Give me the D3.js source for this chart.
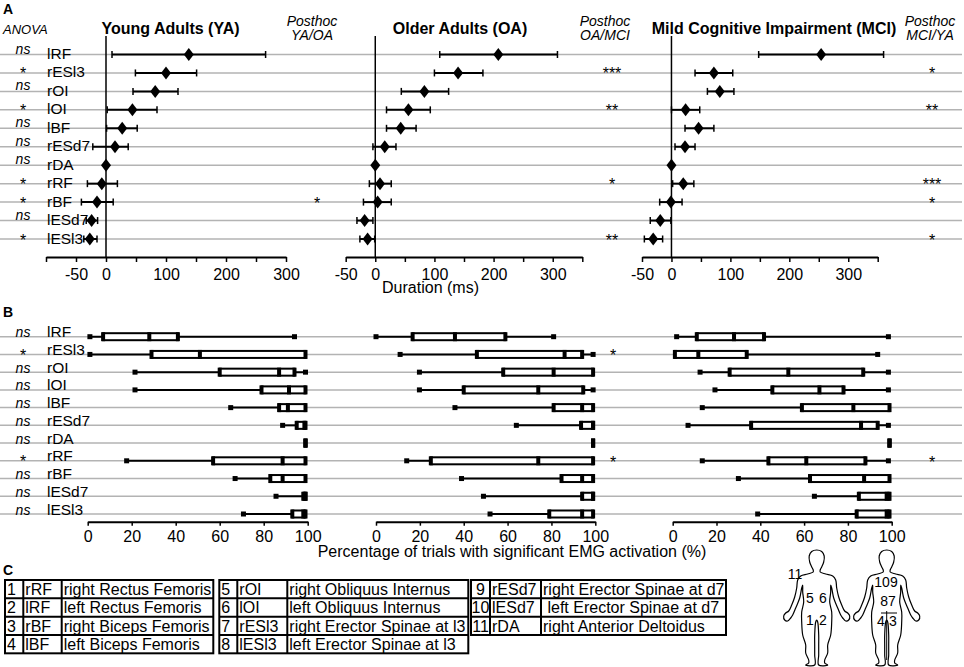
<!DOCTYPE html>
<html>
<head>
<meta charset="utf-8">
<script src="https://cdn.jsdelivr.net/npm/d3@7"></script>
<style>
  body { margin: 0; background: #fff; }
  svg { display: block; font-family: "Liberation Sans", Arial, sans-serif; }
</style>
</head>
<body>
<svg id="chart" width="964" height="667"></svg>
<script>
// muscles, top to bottom
const muscles = ["lRF", "rESl3", "rOI", "lOI", "lBF", "rESd7", "rDA", "rRF", "rBF", "lESd7", "lESl3"];
const anovaA = ["ns", "*", "ns", "*", "ns", "ns", "ns", "*", "*", "ns", "*"];
const anovaB = ["ns", "*", "ns", "ns", "ns", "ns", "ns", "*", "ns", "ns", "ns"];

// onset duration (ms): mean and error bar ends
const yaMean = [138, 100, 82, 44, 27, 15, 0, -7, -15, -24, -27];
const yaLo = [10, 49, 45, 2, 1, -22, 0, -31, -41, -33, -37];
const yaHi = [266, 151, 120, 85, 52, 37, 0, 19, 12, -14, -15];

const oaMean = [208, 140, 83, 56, 43, 16, 0, 8, 4, -18, -13];
const oaLo = [109, 100, 44, 19, 19, -4, 0, -10, -20, -31, -26];
const oaHi = [308, 182, 124, 93, 69, 35, 0, 27, 27, -4, -1];

const mciMean = [254, 72, 82, 24, 46, 23, 0, 20, -1, -19, -31];
const mciLo = [148, 40, 61, 0, 23, 6, 0, 2, -20, -36, -46];
const mciHi = [360, 104, 106, 48, 72, 40, 0, 38, 18, -1, -15];

// posthoc stars
const postYAOA = ["", "", "", "", "", "", "", "", "*", "", ""];
const postOAMCI = ["", "***", "", "**", "", "", "", "*", "", "", "**"];
const postMCIYA = ["", "*", "", "**", "", "", "", "***", "*", "", "*"];

// percentage of trials: [min, q1, median, q3, max]
const boxYA = [
  [1, 7, 28, 41, 94], [1, 29, 51, 99, 99], [21.5, 60, 87, 94, 99], [21.5, 79, 91.5, 99, 99],
  [65, 87, 91, 99, 99], [88.6, 95, 98.5, 99, 99], [99, 99, 99, 99, 99], [17.7, 57, 88.6, 99, 99],
  [67, 83, 88.6, 99, 99], [85.6, 98, 99, 99, 99], [70.8, 93, 98, 99, 99]
];
const boxOA = [
  [0, 16.7, 36, 59, 81], [11, 46, 86, 94, 99], [19.8, 58, 81, 99, 99], [19.8, 40, 74, 94.5, 99],
  [36, 81, 94, 99, 99], [64, 93.5, 99, 99, 99], [99, 99, 99, 99, 99], [14, 25, 74, 99, 99],
  [39, 84.6, 94, 99, 99], [49, 94, 99, 99, 99], [52, 79, 94, 99, 99]
];
const boxMCI = [
  [1.8, 11, 28, 41.7, 98.5], [1, 1, 11.7, 33.8, 93.6], [12.5, 26, 52.8, 87, 98.5], [19.3, 45.5, 67, 78, 98.5],
  [13.5, 59, 82.5, 99, 99], [7, 35.8, 86, 93.6, 98.5], [99, 99, 99, 99, 99], [13.5, 43.7, 61, 88, 98.5],
  [30, 62.7, 87.4, 99, 99], [64.7, 85, 97.7, 99, 99], [38.8, 84, 97.7, 99, 99]
];
const starsBOA = ["", "*", "", "", "", "", "", "*", "", "", ""];
const starsBMCI = ["", "", "", "", "", "", "", "*", "", "", ""];

const durLabels = [-50, 0, 100, 200, 300];
const pctTicks = [0, 20, 40, 60, 80, 100];

// table C
const tabNum = ["1", "2", "3", "4", "5", "6", "7", "8", "9", "10", "11"];
const tabAbbr = ["rRF", "lRF", "rBF", "lBF", "rOI", "lOI", "rESl3", "lESl3", "rESd7", "lESd7", "rDA"];
const tabName = ["right Rectus Femoris", "left Rectus Femoris", "right Biceps Femoris", "left Biceps Femoris",
  "right Obliquus Internus", "left Obliquus Internus", "right Erector Spinae at l3", "left Erector Spinae at l3",
  "right Erector Spinae at d7", " left Erector Spinae at d7", "right Anterior Deltoidus"];

const svg = d3.select("#chart");
const grey = "#b3b3b3";

const yA = d3.scalePoint().domain(muscles).range([54.5, 239]);
const yB = d3.scalePoint().domain(muscles).range([336.7, 514]);

// grey row lines across the whole width
[yA, yB].forEach((y) => {
  svg.append("g").selectAll("line").data(muscles).join("line")
    .attr("x1", 0).attr("x2", 962)
    .attr("y1", (d) => y(d)).attr("y2", (d) => y(d))
    .attr("stroke", grey).attr("stroke-width", 1.5);
});

// panel letters
svg.append("g").attr("font-weight", "bold").attr("font-size", 14)
  .selectAll("text").data([["A", 14], ["B", 317], ["C", 575]]).join("text")
  .attr("x", 3).attr("y", (d) => d[1]).text((d) => d[0]);

svg.append("text").attr("x", 3).attr("y", 33.5).attr("font-size", 13)
  .attr("font-style", "italic").text("ANOVA");

// row labels (ANOVA result + muscle name)
const rowLabels = (y, anova, dyName, dyNs) => {
  const g = svg.append("g");
  g.selectAll(".nm").data(muscles).join("text")
    .attr("x", 47).attr("y", (d) => y(d) + dyName)
    .attr("font-size", 15.5).text((d) => d);
  g.selectAll(".an").data(muscles).join("text")
    .attr("x", 23).attr("text-anchor", "middle")
    .attr("y", (d, i) => y(d) + (anova[i] === "ns" ? dyNs : 6.5))
    .attr("font-size", (d, i) => (anova[i] === "ns" ? 14 : 16))
    .attr("font-style", (d, i) => (anova[i] === "ns" ? "italic" : null))
    .text((d, i) => anova[i]);
};
rowLabels(yA, anovaA, 4.5, -1);
rowLabels(yB, anovaB, 0.5, 0.5);

// ---- Panel A: onset durations ----
const durPanels = [
  { title: "Young Adults (YA)", tx: 170.5, mean: yaMean, lo: yaLo, hi: yaHi,
    x: d3.scaleLinear().domain([-100, 300]).range([46, 286]),
    head: ["Posthoc", "YA/OA"], hx: 312, stars: postYAOA, sx: 317 },
  { title: "Older Adults (OA)", tx: 460, mean: oaMean, lo: oaLo, hi: oaHi,
    x: d3.scaleLinear().domain([-50, 350]).range([345.7, 582.3]),
    head: ["Posthoc", "OA/MCI"], hx: 605, stars: postOAMCI, sx: 612 },
  { title: "Mild Cognitive Impairment (MCI)", tx: 774, mean: mciMean, lo: mciLo, hi: mciHi,
    x: d3.scaleLinear().domain([-50, 350]).range([642, 877.7]),
    head: ["Posthoc", "MCI/YA"], hx: 930, stars: postMCIYA, sx: 932 }
];

const axisY = 257;
durPanels.forEach((p) => {
  const x = p.x;
  const [d0, d1] = x.domain();

  svg.append("text").attr("x", p.tx).attr("y", 34).attr("text-anchor", "middle")
    .attr("font-size", 16).attr("font-weight", "bold").text(p.title);

  svg.append("g").attr("font-size", 14).attr("font-style", "italic").attr("text-anchor", "middle")
    .selectAll("text").data(p.head).join("text")
    .attr("x", p.hx).attr("y", (d, i) => 25.5 + i * 14).text((d) => d);

  const ax = svg.append("g").attr("transform", `translate(0,${axisY})`)
    .call(d3.axisBottom(x)
      .tickValues(d3.range(d0, d1 + 1, 50))
      .tickFormat((d) => (durLabels.includes(d) ? String(d) : ""))
      .tickSize(5).tickSizeOuter(0).tickPadding(7));
  ax.select(".domain").attr("stroke-width", 2);
  ax.selectAll(".tick line").attr("stroke-width", 1.5);
  ax.selectAll("text").attr("font-size", 16).attr("font-family", null);

  // zero line
  svg.append("line").attr("x1", x(0)).attr("x2", x(0)).attr("y1", 36).attr("y2", axisY)
    .attr("stroke", "#000").attr("stroke-width", 1.5);

  const rows = muscles.map((m, i) => ({ m, mean: p.mean[i], lo: p.lo[i], hi: p.hi[i] }));
  const bars = svg.append("g").attr("stroke", "#000").attr("stroke-width", 2);
  const withErr = rows.filter((d) => d.hi > d.lo);
  bars.selectAll(".eb").data(withErr).join("line")
    .attr("x1", (d) => x(d.lo)).attr("x2", (d) => x(d.hi))
    .attr("y1", (d) => yA(d.m)).attr("y2", (d) => yA(d.m));
  bars.selectAll(".cap").data(withErr.flatMap((d) => [{ m: d.m, v: d.lo }, { m: d.m, v: d.hi }])).join("line")
    .attr("x1", (d) => x(d.v)).attr("x2", (d) => x(d.v))
    .attr("y1", (d) => yA(d.m) - 3.5).attr("y2", (d) => yA(d.m) + 3.5)
    .attr("stroke-width", 1.5);

  svg.append("g").selectAll("path").data(rows).join("path")
    .attr("d", (d) => {
      const cx = x(d.mean), cy = yA(d.m);
      return `M${cx},${cy - 6.5}L${cx + 5},${cy}L${cx},${cy + 6.5}L${cx - 5},${cy}Z`;
    })
    .attr("fill", "#000");

  svg.append("g").attr("font-size", 16).attr("text-anchor", "middle")
    .selectAll("text").data(muscles.filter((d, i) => p.stars[i])).join("text")
    .attr("x", p.sx).attr("y", (d) => yA(d) + 6.5)
    .text((d) => p.stars[muscles.indexOf(d)]);
});

svg.append("text").attr("x", 430.5).attr("y", 293).attr("text-anchor", "middle")
  .attr("font-size", 16).text("Duration (ms)");

// ---- Panel B: box plots ----
const boxPanels = [
  { data: boxYA, x: d3.scaleLinear().domain([0, 100]).range([87.7, 307.7]), stars: null },
  { data: boxOA, x: d3.scaleLinear().domain([0, 100]).range([376, 595.3]), stars: starsBOA, sx: 613 },
  { data: boxMCI, x: d3.scaleLinear().domain([0, 100]).range([672.7, 891.7]), stars: starsBMCI, sx: 932 }
];
const axisYB = 521.7;

boxPanels.forEach((p) => {
  const x = p.x;
  const ax = svg.append("g").attr("transform", `translate(0,${axisYB})`)
    .call(d3.axisBottom(x).tickValues(pctTicks).tickSize(4).tickSizeOuter(0).tickPadding(5));
  ax.select(".domain").attr("stroke-width", 2);
  ax.selectAll(".tick line").attr("stroke-width", 1.5);
  ax.selectAll("text").attr("font-size", 16).attr("font-family", null);

  const rows = muscles.map((m, i) => {
    const [mn, q1, md, q3, mx] = p.data[i];
    return { m, mn, q1, md, q3, mx };
  });
  const g = svg.append("g");

  // whiskers
  g.selectAll(".wh").data(rows).join("line")
    .attr("x1", (d) => x(d.mn)).attr("x2", (d) => x(d.mx))
    .attr("y1", (d) => yB(d.m)).attr("y2", (d) => yB(d.m))
    .attr("stroke", "#000").attr("stroke-width", 2);
  // whisker end squares
  const ends = rows.flatMap((d) => {
    const out = [];
    if (d.mn < d.q1 - 0.5) out.push({ m: d.m, v: d.mn });
    if (d.mx > d.q3 + 0.5) out.push({ m: d.m, v: d.mx });
    return out;
  });
  g.selectAll(".end").data(ends).join("rect")
    .attr("x", (d) => x(d.v) - 2.5).attr("y", (d) => yB(d.m) - 2.5)
    .attr("width", 5).attr("height", 5).attr("fill", "#000");
  // box
  g.selectAll(".box").data(rows).join("rect")
    .attr("x", (d) => x(d.q1)).attr("y", (d) => yB(d.m) - 3.5)
    .attr("width", (d) => x(d.q3) - x(d.q1)).attr("height", 7)
    .attr("fill", "#fff").attr("stroke", "#000").attr("stroke-width", 2);
  // quartile and median marks
  g.selectAll(".q").data(rows.flatMap((d) => [d.q1, d.md, d.q3].map((v) => ({ m: d.m, v })))).join("rect")
    .attr("x", (d) => x(d.v) - 2).attr("y", (d) => yB(d.m) - 4.5)
    .attr("width", 4).attr("height", 9).attr("fill", "#000");

  if (p.stars) {
    svg.append("g").attr("font-size", 16).attr("text-anchor", "middle")
      .selectAll("text").data(muscles.filter((d, i) => p.stars[i])).join("text")
      .attr("x", p.sx).attr("y", (d) => yB(d) + 7)
      .text((d) => p.stars[muscles.indexOf(d)]);
  }
});

svg.append("text").attr("x", 512).attr("y", 557).attr("text-anchor", "middle")
  .attr("font-size", 16).text("Percentage of trials with significant EMG activation (%)");

// ---- Panel C: muscle table ----
const tables = [
  { cols: [5, 23.3, 61.7, 213.3], start: 0, n: 4, numMid: false },
  { cols: [219.3, 237.3, 287.3, 468.3], start: 4, n: 4, numMid: false },
  { cols: [471, 490, 541, 726], start: 8, n: 3, numMid: true }
];
const rowH = 18.33, tabTop = 580;
tables.forEach((t) => {
  const g = svg.append("g");
  const h = t.n * rowH;
  const idx = d3.range(t.start, t.start + t.n);
  g.append("rect").attr("x", t.cols[0]).attr("y", tabTop)
    .attr("width", t.cols[3] - t.cols[0]).attr("height", h)
    .attr("fill", "none").attr("stroke", "#000").attr("stroke-width", 2);
  g.selectAll(".vc").data(t.cols.slice(1, 3)).join("line")
    .attr("x1", (d) => d).attr("x2", (d) => d).attr("y1", tabTop).attr("y2", tabTop + h)
    .attr("stroke", "#000").attr("stroke-width", 2);
  g.selectAll(".hr").data(d3.range(1, t.n)).join("line")
    .attr("x1", t.cols[0]).attr("x2", t.cols[3])
    .attr("y1", (d) => tabTop + d * rowH).attr("y2", (d) => tabTop + d * rowH)
    .attr("stroke", "#000").attr("stroke-width", 2);
  const txt = g.append("g").attr("font-size", 16);
  txt.selectAll(".n").data(idx).join("text")
    .attr("x", t.numMid ? (t.cols[0] + t.cols[1]) / 2 : t.cols[0] + 2)
    .attr("text-anchor", t.numMid ? "middle" : "start")
    .attr("y", (d, i) => tabTop + i * rowH + 15).text((d) => tabNum[d]);
  txt.selectAll(".a").data(idx).join("text")
    .attr("x", t.cols[1] + 2).attr("y", (d, i) => tabTop + i * rowH + 15).text((d) => tabAbbr[d]);
  txt.selectAll(".f").data(idx).join("text")
    .attr("x", t.cols[2] + 2).attr("y", (d, i) => tabTop + i * rowH + 15)
    .style("white-space", "pre").text((d) => tabName[d]);
});

// ---- body sketches (front and back) ----
const bodyHalf = [
  [0, 0], [5, 1.5], [7.5, 6], [7, 12], [5, 17], [3.5, 20], [3.5, 22],
  [9, 24], [16, 26], [19, 30], [20, 38], [22, 47], [25, 55], [28, 61],
  [31, 63], [33, 66], [32, 70], [29, 71], [26, 68], [24, 65],
  [21, 58], [17, 48], [15, 38], [14, 35], [14, 42], [13, 52], [15, 62], [15, 72],
  [14, 85], [11, 95], [11, 103], [8, 110], [8, 113], [11, 115], [2, 115],
  [2, 105], [2, 95], [2, 85], [1, 72], [0, 70]
];
const outline = bodyHalf.concat(bodyHalf.slice(1, -1).reverse().map(([bx, by]) => [-bx, by]));
const bodyLine = d3.line().curve(d3.curveCatmullRomClosed.alpha(0.5));
const bodies = [816.7, 886.7];
bodies.forEach((cx) => {
  svg.append("path")
    .attr("d", bodyLine(outline.map(([bx, by]) => [cx + bx, 550 + by])))
    .attr("fill", "#fff").attr("stroke", "#000").attr("stroke-width", 1.2);
});
// spine cross on the back view
svg.append("g").attr("stroke", "#000").attr("stroke-width", 1)
  .selectAll("line").data([[886.7, 611, 886.7, 660], [881, 613, 897, 613]]).join("line")
  .attr("x1", (d) => d[0]).attr("y1", (d) => d[1]).attr("x2", (d) => d[2]).attr("y2", (d) => d[3]);

const bodyNums = [
  ["11", 795, 579], ["5", 810, 603], ["6", 823, 603], ["1", 810, 625], ["2", 823, 625],
  ["109", 886, 587], ["87", 888, 606], ["4", 881, 626], ["3", 893, 626]
];
svg.append("g").attr("font-size", 14).attr("text-anchor", "middle")
  .selectAll("text").data(bodyNums).join("text")
  .attr("x", (d) => d[1]).attr("y", (d) => d[2]).text((d) => d[0]);
</script>
</body>
</html>
